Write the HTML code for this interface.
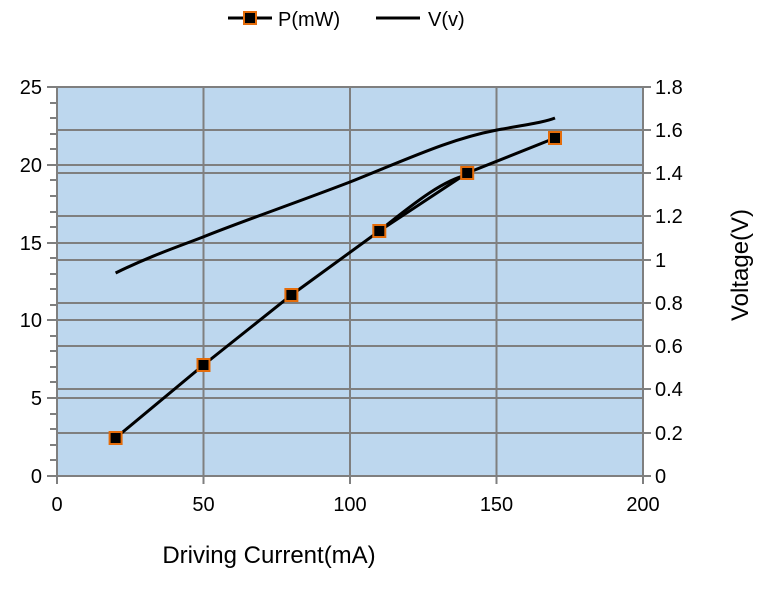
<!DOCTYPE html>
<html><head><meta charset="utf-8"><style>body{margin:0;background:#fff}svg{display:block}text{font-family:"Liberation Sans",sans-serif;fill:#000}</style></head><body>
<svg width="774" height="594" viewBox="0 0 774 594">
<rect x="57" y="87" width="586" height="389" fill="#bdd7ee"/>
<g stroke="#7f7f7f" stroke-width="2">
<line x1="57" x2="643" y1="165" y2="165"/><line x1="57" x2="643" y1="243" y2="243"/><line x1="57" x2="643" y1="320" y2="320"/><line x1="57" x2="643" y1="398" y2="398"/>
<line x1="57" x2="643" y1="130" y2="130"/><line x1="57" x2="643" y1="173" y2="173"/><line x1="57" x2="643" y1="216" y2="216"/><line x1="57" x2="643" y1="260" y2="260"/><line x1="57" x2="643" y1="303" y2="303"/><line x1="57" x2="643" y1="346" y2="346"/><line x1="57" x2="643" y1="389" y2="389"/><line x1="57" x2="643" y1="433" y2="433"/>
<line x1="203.5" x2="203.5" y1="87" y2="476"/><line x1="350" x2="350" y1="87" y2="476"/><line x1="496.5" x2="496.5" y1="87" y2="476"/>
<line x1="47" x2="643" y1="87" y2="87"/><line x1="47" x2="643" y1="476" y2="476"/>
<line x1="57" x2="57" y1="87" y2="484"/><line x1="643" x2="643" y1="87" y2="484"/>
<line x1="203.5" x2="203.5" y1="476" y2="484"/><line x1="350" x2="350" y1="476" y2="484"/><line x1="496.5" x2="496.5" y1="476" y2="484"/>
<line x1="47" x2="57" y1="165" y2="165"/><line x1="47" x2="57" y1="243" y2="243"/><line x1="47" x2="57" y1="320" y2="320"/><line x1="47" x2="57" y1="398" y2="398"/>
</g>
<g stroke="#7f7f7f" stroke-width="2">
<path d="M50 103h7M50 118h7M50 134h7M50 149h7M50 180h7M50 196h7M50 212h7M50 227h7M50 258h7M50 274h7M50 289h7M50 305h7M50 336h7M50 351h7M50 367h7M50 382h7M50 414h7M50 429h7M50 445h7M50 460h7"/>
<path d="M643 87h8M643 130h8M643 173h8M643 216h8M643 260h8M643 303h8M643 346h8M643 389h8M643 433h8M643 476h8"/>
</g>
<path d="M115.6 273 C150 256, 180 246, 203 237 C240 222, 290 205, 350 182 C410 158, 450 139, 497 130 C530 124, 545 122, 555 118" fill="none" stroke="#000" stroke-width="3"/>
<polyline points="115.6,438 203.5,365 291.4,295 379.3,231 467.2,173 555,138" fill="none" stroke="#000" stroke-width="3"/>
<path d="M379.3 231 C420 198, 445 180, 467 175" fill="none" stroke="#000" stroke-width="3"/>
<g fill="#000" stroke="#e46c0a" stroke-width="2">
<rect x="109.6" y="432" width="12" height="12"/><rect x="197.5" y="359" width="12" height="12"/><rect x="285.4" y="289" width="12" height="12"/><rect x="373.3" y="225" width="12" height="12"/><rect x="461.2" y="167" width="12" height="12"/><rect x="549" y="132" width="12" height="12"/>
</g>
<g font-size="20" text-anchor="end">
<text x="42" y="94">25</text><text x="42" y="172">20</text><text x="42" y="250">15</text><text x="42" y="327">10</text><text x="42" y="405">5</text><text x="42" y="483">0</text>
</g>
<g font-size="20">
<text x="655" y="94">1.8</text><text x="655" y="137">1.6</text><text x="655" y="180">1.4</text><text x="655" y="223">1.2</text><text x="655" y="267">1</text><text x="655" y="310">0.8</text><text x="655" y="353">0.6</text><text x="655" y="396">0.4</text><text x="655" y="440">0.2</text><text x="655" y="483">0</text>
</g>
<g font-size="20" text-anchor="middle">
<text x="57" y="511">0</text><text x="203.5" y="511">50</text><text x="350" y="511">100</text><text x="496.5" y="511">150</text><text x="643" y="511">200</text>
</g>
<text x="269" y="563" font-size="24" text-anchor="middle">Driving Current(mA)</text>
<text transform="translate(748,265) rotate(-90)" font-size="24" text-anchor="middle">Voltage(V)</text>
<line x1="228" x2="272" y1="18" y2="18" stroke="#000" stroke-width="3"/>
<rect x="244" y="12" width="12" height="12" fill="#000" stroke="#e46c0a" stroke-width="2"/>
<text x="278" y="26" font-size="20">P(mW)</text>
<line x1="376" x2="420" y1="18" y2="18" stroke="#000" stroke-width="3"/>
<text x="428" y="26" font-size="20">V(v)</text>
</svg>
</body></html>
